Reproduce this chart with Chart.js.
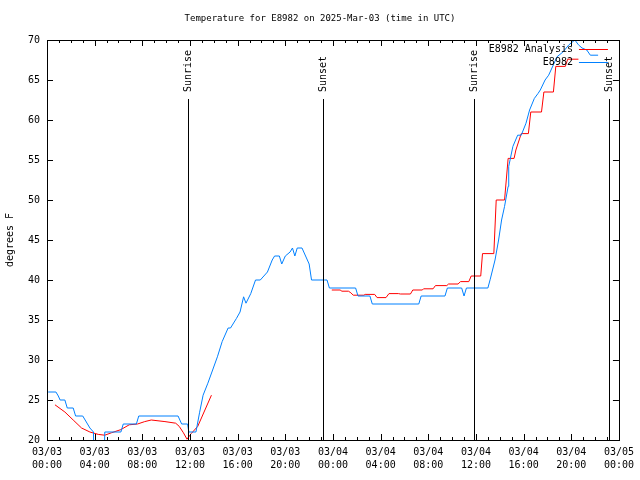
<!DOCTYPE html>
<html>
<head>
<meta charset="utf-8">
<script src="https://cdn.jsdelivr.net/npm/chart.js@4.4.1/dist/chart.umd.min.js"></script>
<style>
html,body{margin:0;padding:0;background:#fff;}
#wrap{width:640px;height:480px;}
</style>
</head>
<body>
<div id="wrap"><canvas id="c" width="640" height="480"></canvas></div>
<script>
// ---- data (hours since 2025-03-03 00:00 UTC, temperature in F) ----
const obsHours = [0.1,0.75,0.95,1.1,1.5,1.7,2.2,2.4,3.0,3.2,3.6,3.9,3.95,4.75,4.85,6.2,6.4,7.5,7.7,11.0,11.3,11.8,11.9,12.5,12.8,13.1,13.5,13.9,14.3,14.7,15.2,15.4,15.9,16.2,16.5,16.7,17.1,17.5,17.9,18.5,18.9,19.1,19.5,19.7,20.0,20.4,20.6,20.8,21.0,21.4,22.0,22.2,23.3,23.5,23.7,25.9,26.1,27.1,27.3,31.2,31.4,33.4,33.6,34.8,35.0,35.2,37.0,37.2,37.6,37.9,38.15,38.4,38.7,38.75,39.1,39.5,39.8,40.2,40.5,40.9,41.2,41.4,41.8,42.1,42.5,42.8,43.3,43.8,44.3,44.6,44.9,45.3,45.6,46.25];
const obsTemps = [26,26,25.5,25,25,24,24,23,23,22.5,21.5,21,15,15,21,21,22,22,23,23,22,22,21,21,23.4,25.6,27.1,28.75,30.4,32.3,34,34,35.2,36,37.9,37.1,38.3,40,40,41,42.5,43,43,42,43,43.5,44,43,44,44,42,40,40,40,39,39,38,38,37,37,38,38,39,39,38,39,39,40.1,42.5,45,47.5,49.2,51.7,54.2,56.7,58.1,58.1,59.6,61.25,62.7,63.3,63.75,65,65.6,66.9,67.9,68.5,69.4,70,69.4,69,68.75,68.1,68.1];

const anaHours = [0.67,1.5,2.2,2.9,3.6,4.3,4.85,5.4,6.2,6.9,7.6,8.2,8.75,9.9,10.8,11.1,11.45,11.75,12.1,12.65,13.8,18.0,23.9,24.6,24.75,25.3,25.5,25.7,26.6,26.7,27.5,27.7,28.45,28.7,29.5,29.65,30.5,30.7,31.5,31.6,32.4,32.6,33.55,33.7,34.5,34.7,35.4,35.6,36.4,36.55,37.5,37.7,38.4,38.7,39.2,39.35,39.8,40.4,40.6,41.5,41.7,42.5,42.7,43.5,43.7,44.6];
const anaTemps = [24.4,23.5,22.5,21.5,21,20.7,20.6,20.9,21.3,21.9,22,22.3,22.5,22.3,22.1,21.7,20.9,20.1,20.8,21.7,25.6,null,38.75,38.75,38.6,38.6,38.4,38.1,38.1,38.2,38.2,37.8,37.8,38.3,38.3,38.25,38.25,38.75,38.75,38.9,38.9,39.3,39.3,39.5,39.5,39.8,39.8,40.5,40.5,43.3,43.3,50,50,55.2,55.2,56.25,58.3,58.3,61,61,63.5,63.5,66.7,66.7,67.6,67.6];

const eventNames = ["Sunrise","Sunset","Sunrise","Sunset"];
const eventHours = [11.87,23.16,35.87,47.16];

const dayLabels = ["03/03","03/03","03/03","03/03","03/03","03/03","03/04","03/04","03/04","03/04","03/04","03/04","03/05"];
const timeLabels = ["00:00","04:00","08:00","12:00","16:00","20:00","00:00","04:00","08:00","12:00","16:00","20:00","00:00"];
const yTicks = [20,25,30,35,40,45,50,55,60,65,70];

const titleText = "Temperature for E8982 on 2025-Mar-03 (time in UTC)";
const yTitle = "degrees F";
const seriesNames = ["E8982 Analysis","E8982"];
const RED = "#ff0000", BLUE = "#0080ff";
const FONT = "10px 'DejaVu Sans Mono', 'Liberation Mono', monospace";
const TITLE_FONT = "9px 'DejaVu Sans Mono', 'Liberation Mono', monospace";

const obsData = obsHours.map((h,i)=>({x:h,y:obsTemps[i]}));
const anaData = anaHours.map((h,i)=>({x:h,y:anaTemps[i]}));

const gnuplotLook = {
  id:'gnuplotLook',
  afterDatasetsDraw(chart){
    const ctx = chart.ctx, a = chart.chartArea, xs = chart.scales.x, ys = chart.scales.y;
    ctx.save();
    ctx.strokeStyle = '#000'; ctx.lineWidth = 1;
    ctx.font = FONT; ctx.fillStyle = '#000';
    eventHours.forEach((h,i)=>{
      const px = Math.round(xs.getPixelForValue(h)) + 0.5;
      ctx.beginPath(); ctx.moveTo(px, a.bottom); ctx.lineTo(px, a.top + 59); ctx.stroke();
      ctx.save();
      ctx.translate(px, a.top + 52);
      ctx.rotate(-Math.PI/2);
      ctx.textAlign = 'left'; ctx.textBaseline = 'middle';
      ctx.fillText(eventNames[i], 0, 0);
      ctx.restore();
    });
    ctx.strokeRect(Math.round(a.left)+0.5, Math.round(a.top)+0.5, Math.round(a.right-a.left), Math.round(a.bottom-a.top));
    for (let h = xs.min; h <= xs.max; h++) {
      const px = Math.round(xs.getPixelForValue(h)) + 0.5;
      const len = (h % 4 === 0) ? 6 : 3;
      ctx.beginPath();
      ctx.moveTo(px, a.bottom); ctx.lineTo(px, a.bottom - len);
      ctx.moveTo(px, a.top); ctx.lineTo(px, a.top + len);
      ctx.stroke();
    }
    yTicks.forEach(v=>{
      const py = Math.round(ys.getPixelForValue(v)) + 0.5;
      ctx.beginPath();
      ctx.moveTo(a.left, py); ctx.lineTo(a.left + 6, py);
      ctx.moveTo(a.right, py); ctx.lineTo(a.right - 6, py);
      ctx.stroke();
    });
    const colors = [RED, BLUE];
    seriesNames.forEach((n,i)=>{
      const y = a.top + 9 + i*13;
      ctx.fillStyle = '#000'; ctx.textAlign = 'right'; ctx.textBaseline = 'middle';
      ctx.fillText(n, a.right - 46, y);
      ctx.strokeStyle = colors[i];
      ctx.beginPath(); ctx.moveTo(a.right - 40, Math.round(y)+0.5); ctx.lineTo(a.right - 11, Math.round(y)+0.5); ctx.stroke();
    });
    ctx.restore();
  },
  afterDraw(chart){
    const ctx = chart.ctx;
    ctx.save();
    ctx.fillStyle = '#000';
    ctx.textAlign = 'center'; ctx.textBaseline = 'middle';
    ctx.font = TITLE_FONT;
    ctx.fillText(titleText, 320, 19);
    ctx.font = FONT;
    ctx.translate(10, 240);
    ctx.rotate(-Math.PI/2);
    ctx.fillText(yTitle, 0, 0);
    ctx.restore();
  }
};

new Chart(document.getElementById('c'), {
  type: 'line',
  data: {
    datasets: [
      { label: seriesNames[1], data: obsData, borderColor: BLUE, borderWidth: 1, pointRadius: 0, tension: 0, fill: false },
      { label: seriesNames[0], data: anaData, borderColor: RED, borderWidth: 1, pointRadius: 0, tension: 0, fill: false, spanGaps: false }
    ]
  },
  options: {
    responsive: false,
    animation: false,
    devicePixelRatio: 1,
    layout: { padding: { top: 40, right: 19, bottom: 0, left: 0 } },
    plugins: { legend: { display: false }, title: { display: false }, tooltip: { enabled: false } },
    scales: {
      x: {
        type: 'linear', min: 0, max: 48,
        grid: { display: false, drawTicks: false },
        border: { display: false },
        afterFit(s){ s.height = 40; },
        afterBuildTicks(s){ s.ticks = timeLabels.map((t,i)=>({value: i*4})); },
        ticks: {
          autoSkip: false, maxRotation: 0, minRotation: 0, padding: 6,
          color: '#000', font: { family: "'DejaVu Sans Mono'", size: 10, lineHeight: 1.3 },
          callback(v){ const i = Math.round(v/4); return [dayLabels[i], timeLabels[i]]; }
        }
      },
      y: {
        min: 20, max: 70,
        grid: { display: false, drawTicks: false },
        border: { display: false },
        afterFit(s){ s.width = 47; },
        afterBuildTicks(s){ s.ticks = yTicks.map(v=>({value:v})); },
        ticks: { padding: 7, color: '#000', font: { family: "'DejaVu Sans Mono'", size: 10 } }
      }
    }
  },
  plugins: [gnuplotLook]
});
</script>
</body>
</html>
